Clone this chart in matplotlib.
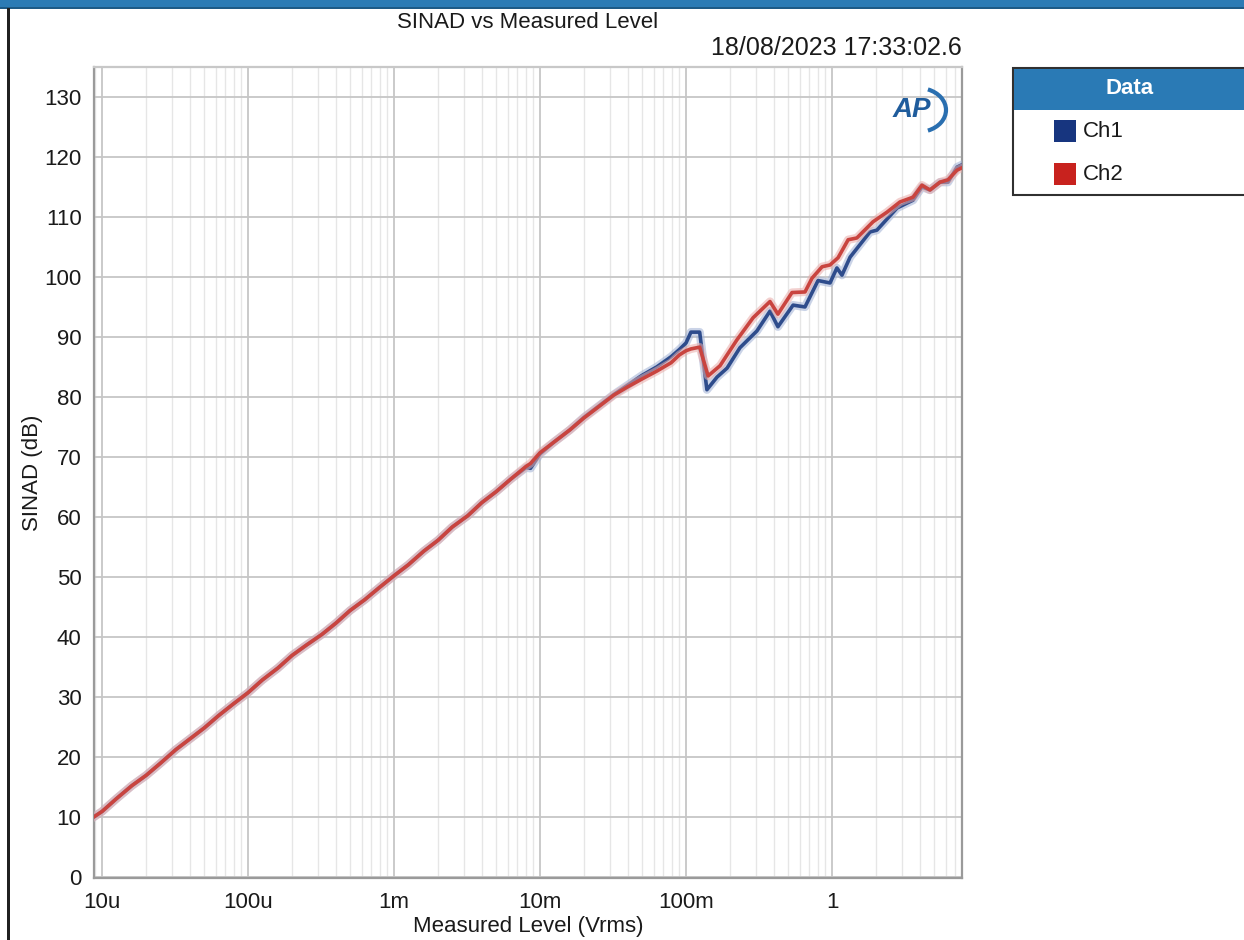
import matplotlib
matplotlib.use("Agg")
import matplotlib.pyplot as plt
import matplotlib.patheffects as pe
from matplotlib.patches import Rectangle, Arc
from matplotlib.ticker import FixedLocator, LogLocator, NullFormatter

# ---------------- data ----------------
level_low = [8.8e-6, 1.0e-5, 1.25e-5, 1.6e-5, 2.0e-5, 2.5e-5, 3.2e-5, 4.0e-5, 5.0e-5,
             6.3e-5, 8.0e-5, 1.0e-4, 1.25e-4, 1.6e-4, 2.0e-4, 2.5e-4, 3.2e-4, 4.0e-4,
             5.0e-4, 6.3e-4, 8.0e-4, 1.0e-3, 1.25e-3, 1.6e-3, 2.0e-3, 2.5e-3, 3.2e-3,
             4.0e-3, 5.0e-3, 6.3e-3, 8.0e-3, 8.6e-3, 1.0e-2, 1.25e-2, 1.6e-2, 2.0e-2,
             2.5e-2, 3.2e-2, 4.0e-2, 5.0e-2, 6.3e-2, 7.9e-2, 9.0e-2, 1.0e-1, 1.08e-1,
             1.24e-1]
ch1_low = [10.0, 10.9, 13.0, 15.2, 16.9, 18.9, 21.2, 23.0, 24.8,
           26.9, 28.9, 30.7, 32.8, 34.8, 36.9, 38.6, 40.4, 42.3,
           44.4, 46.2, 48.3, 50.2, 52.0, 54.3, 56.1, 58.3, 60.2,
           62.4, 64.2, 66.3, 68.2, 68.1, 70.5, 72.5, 74.5, 76.6,
           78.4, 80.4, 82.0, 83.6, 85.0, 86.7, 87.9, 89.0, 90.8,
           90.8]
ch2_low = [10.0, 10.9, 13.0, 15.2, 16.9, 18.9, 21.2, 23.0, 24.8,
           26.9, 28.9, 30.7, 32.8, 34.8, 36.9, 38.6, 40.4, 42.3,
           44.4, 46.2, 48.3, 50.2, 52.0, 54.3, 56.1, 58.3, 60.2,
           62.4, 64.2, 66.3, 68.4, 68.9, 70.7, 72.5, 74.5, 76.5,
           78.3, 80.3, 81.7, 83.0, 84.3, 85.7, 87.0, 87.7, 88.0,
           88.3]

level_hi_ch1 = [0.139, 0.163, 0.191, 0.234, 0.306, 0.376, 0.426, 0.541, 0.653, 0.802,
                0.969, 1.08, 1.17, 1.33, 1.82, 2.03, 2.79, 3.59, 4.13, 4.69, 5.49,
                6.23, 7.18, 7.77]
ch1_hi = [81.2, 83.3, 84.8, 88.2, 91.0, 94.3, 91.7, 95.3, 95.0, 99.4,
          99.0, 101.5, 100.3, 103.3, 107.5, 107.8, 111.5, 112.8, 115.0, 114.5, 115.8,
          115.8, 118.3, 118.7]

level_hi_ch2 = [0.1416, 0.171, 0.223, 0.288, 0.376, 0.426, 0.532, 0.653, 0.730, 0.855,
                0.969, 1.10, 1.29, 1.48, 1.91, 2.38, 2.92, 3.59, 4.13, 4.69, 5.49,
                6.23, 7.18, 7.77]
ch2_hi = [83.5, 85.2, 89.5, 93.2, 95.9, 93.8, 97.4, 97.5, 99.8, 101.7,
          102.0, 103.2, 106.2, 106.5, 109.2, 110.8, 112.5, 113.3, 115.3, 114.5, 115.8,
          116.2, 117.8, 118.2]

x_ticks = [1e-5, 1e-4, 1e-3, 1e-2, 1e-1, 1]
x_tick_labels = ["10u", "100u", "1m", "10m", "100m", "1"]
y_ticks = list(range(0, 131, 10))

title = "SINAD vs Measured Level"
timestamp = "18/08/2023 17:33:02.6"
x_label = "Measured Level (Vrms)"
y_label = "SINAD (dB)"
series_names = ["Ch1", "Ch2"]

# ---------------- figure ----------------
plt.rcParams['font.family'] = ['Liberation Sans', 'DejaVu Sans']
W, H = 1244, 940
fig = plt.figure(figsize=(W / 100, H / 100), dpi=100)
fig.patch.set_facecolor("white")

def px_rect(x0, y0, x1, y1, **kw):
    return Rectangle((x0 / W, 1 - y1 / H), (x1 - x0) / W, (y1 - y0) / H,
                     transform=fig.transFigure, **kw)

# window chrome
fig.patches.append(px_rect(0, 0, W, 8, facecolor="#2b7bb5", edgecolor="none"))
fig.patches.append(px_rect(0, 7, W, 9, facecolor="#1d5a86", edgecolor="none"))
fig.patches.append(px_rect(7, 8, 10, H, facecolor="#202020", edgecolor="none"))

ax = fig.add_axes([94 / W, 1 - 878 / H, (962 - 94) / W, (878 - 67) / H])
ax.set_xscale("log")
ax.set_xlim(8.8e-6, 7.77)
ax.set_ylim(-0.2, 135)

ax.xaxis.set_major_locator(FixedLocator(x_ticks))
ax.set_xticklabels(x_tick_labels)
ax.xaxis.set_minor_locator(LogLocator(base=10, subs=range(2, 10), numticks=20))
ax.xaxis.set_minor_formatter(NullFormatter())
ax.set_yticks(y_ticks)
ax.tick_params(axis="both", which="both", length=0, labelsize=16, colors="#1a1a1a")
ax.tick_params(axis="x", pad=10)
ax.tick_params(axis="y", pad=9)

ax.grid(True, which="major", color="#c6c6c6", linewidth=1.3)
ax.grid(True, which="minor", axis="x", color="#e6e6e6", linewidth=1.0)
ax.set_axisbelow(True)
for side, sp in ax.spines.items():
    sp.set_color("#9a9a9a")
    sp.set_linewidth(1.6)
ax.spines["top"].set_color("#c8c8c8")

blue = "#2e4c8c"
red = "#c9443f"
l1, = ax.plot(level_low + level_hi_ch1, ch1_low + ch1_hi, color=blue, linewidth=2.6,
              solid_joinstyle="round", zorder=3)
l1.set_path_effects([pe.Stroke(linewidth=6, foreground="#9fb0d4", alpha=0.55), pe.Normal()])
l2, = ax.plot(level_low + level_hi_ch2, ch2_low + ch2_hi, color=red, linewidth=2.6,
              solid_joinstyle="round", zorder=4)
l2.set_path_effects([pe.Stroke(linewidth=6, foreground="#e8aaa8", alpha=0.55), pe.Normal()])

ax.set_xlabel(x_label, fontsize=16, labelpad=2, color="#1a1a1a")
ax.set_ylabel(y_label, fontsize=16, labelpad=1, color="#1a1a1a")

fig.text(528 / W, 1 - 22 / H, title, ha="center", va="center", fontsize=16, color="#1a1a1a")
fig.text(962 / W, 1 - 48 / H, timestamp, ha="right", va="center", fontsize=18, color="#1a1a1a")

# AP logo
fig.text(912 / W, 1 - 110 / H, "AP", ha="center", va="center", fontsize=20,
         fontweight="bold", fontstyle="italic", color="#1f5c9c")
fig.patches.append(Arc((918 / W, 1 - 110 / H), 56 / W, 44 / H, theta1=-70, theta2=70,
                       transform=fig.transFigure, color="#2a6fb0", linewidth=3))

# legend box
fig.patches.append(px_rect(1013, 68, 1250, 195, facecolor="white", edgecolor="#303030",
                           linewidth=1.5))
fig.patches.append(px_rect(1014, 69, 1250, 110, facecolor="#2a7ab5", edgecolor="none"))
fig.text(1130 / W, 1 - 89 / H, "Data", ha="center", va="center", fontsize=16,
         fontweight="bold", color="white")
legend_colors = ["#17357f", "#c8221e"]
for i, (name, c) in enumerate(zip(series_names, legend_colors)):
    yc = 131 + 43 * i
    fig.patches.append(px_rect(1054, yc - 11, 1076, yc + 11, facecolor=c, edgecolor="none"))
    fig.text(1083 / W, 1 - yc / H, name, ha="left", va="center", fontsize=16, color="#1a1a1a")

fig.savefig("out.png", dpi=100, facecolor="white")
